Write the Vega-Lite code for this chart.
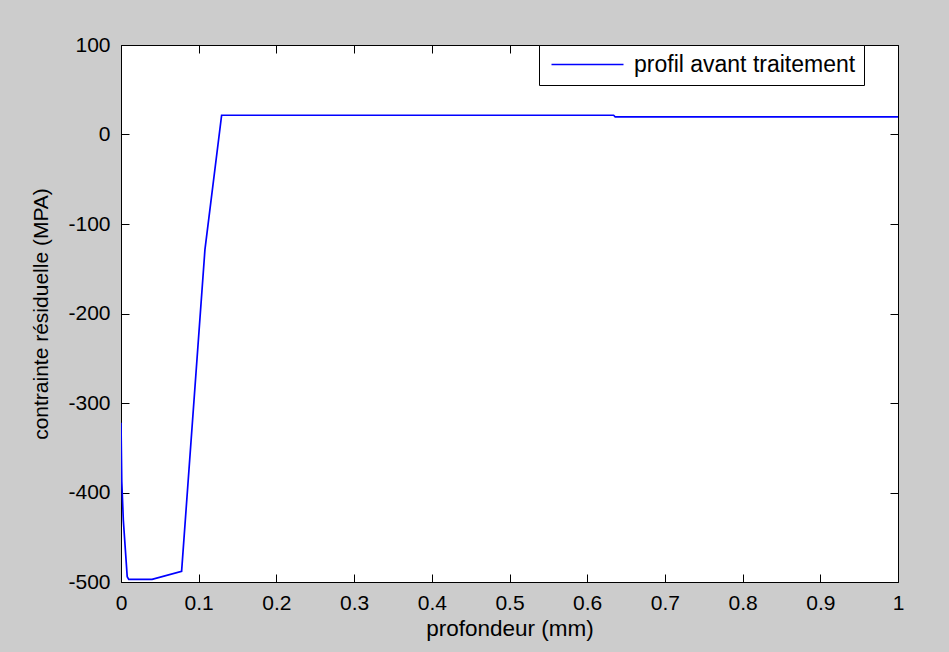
{
  "$schema": "https://vega.github.io/schema/vega-lite/v6.json",
  "width": 777,
  "height": 537,
  "autosize": {"type": "none"},
  "padding": {"left": 121, "top": 45, "right": 51, "bottom": 70},
  "background": "#cccccc",
  "config": {
    "view": {"fill": "white", "stroke": "black", "strokeWidth": 1},
    "font": "Liberation Sans",
    "axis": {
      "grid": false,
      "domain": false,
      "tickSize": -8,
      "tickColor": "black",
      "tickWidth": 1,
      "labelFont": "Liberation Sans",
      "labelFontSize": 21,
      "labelColor": "black",
      "titleFont": "Liberation Sans",
      "titleFontSize": 22.5,
      "titleFontWeight": "normal",
      "titleColor": "black"
    }
  },
  "data": {
    "values": [
      {"x": 0, "y": -322, "series": "profil avant traitement"},
      {"x": 0.001, "y": -388, "series": "profil avant traitement"},
      {"x": 0.003, "y": -431, "series": "profil avant traitement"},
      {"x": 0.008, "y": -494, "series": "profil avant traitement"},
      {"x": 0.01, "y": -497, "series": "profil avant traitement"},
      {"x": 0.04, "y": -497, "series": "profil avant traitement"},
      {"x": 0.078, "y": -488, "series": "profil avant traitement"},
      {"x": 0.108, "y": -129, "series": "profil avant traitement"},
      {"x": 0.1295, "y": 21.5, "series": "profil avant traitement"},
      {"x": 0.634, "y": 21.5, "series": "profil avant traitement"},
      {"x": 0.636, "y": 19.8, "series": "profil avant traitement"},
      {"x": 1, "y": 19.8, "series": "profil avant traitement"}
    ]
  },
  "layer": [
    {
      "mark": {"type": "line", "strokeWidth": 1.7, "clip": true},
      "encoding": {
        "x": {
          "field": "x", "type": "quantitative",
          "scale": {"domain": [0, 1], "nice": false, "zero": false},
          "axis": {"orient": "bottom", "values": [0, 0.1, 0.2, 0.3, 0.4, 0.5, 0.6, 0.7, 0.8, 0.9, 1], "labelExpr": "toString(datum.value)", "labelPadding": 18, "title": "profondeur (mm)", "titlePadding": 4, "labelFlush": false}
        },
        "y": {
          "field": "y", "type": "quantitative",
          "scale": {"domain": [-500, 100], "nice": false, "zero": false},
          "axis": {"orient": "left", "values": [-500, -400, -300, -200, -100, 0, 100], "labelExpr": "toString(datum.value)", "labelPadding": 19, "title": "contrainte résiduelle (MPA)", "titleFontSize": 21, "titlePadding": 16}
        },
        "color": {
          "field": "series", "type": "nominal",
          "scale": {"range": ["#0000ff"]},
          "legend": {
            "title": null,
            "orient": "none",
            "legendX": 418,
            "legendY": 0,
            "padding": 8,
            "fillColor": "white",
            "strokeColor": "black",
            "symbolType": "M-4,0H4",
            "symbolSize": 324,
            "symbolStrokeWidth": 1.5,
            "symbolOffset": 29,
            "labelOffset": 35,
            "labelFont": "Liberation Sans",
            "labelFontSize": 23,
            "labelColor": "black",
            "labelLimit": 400
          }
        }
      }
    },
    {
      "mark": {"type": "line", "opacity": 0},
      "encoding": {
        "x": {
          "field": "x", "type": "quantitative",
          "axis": {"orient": "top", "values": [0, 0.1, 0.2, 0.3, 0.4, 0.5, 0.6, 0.7, 0.8, 0.9, 1], "labels": false, "title": null}
        },
        "y": {
          "field": "y", "type": "quantitative",
          "axis": {"orient": "right", "values": [-500, -400, -300, -200, -100, 0, 100], "labels": false, "title": null}
        }
      }
    }
  ],
  "resolve": {"axis": {"x": "independent", "y": "independent"}}
}
